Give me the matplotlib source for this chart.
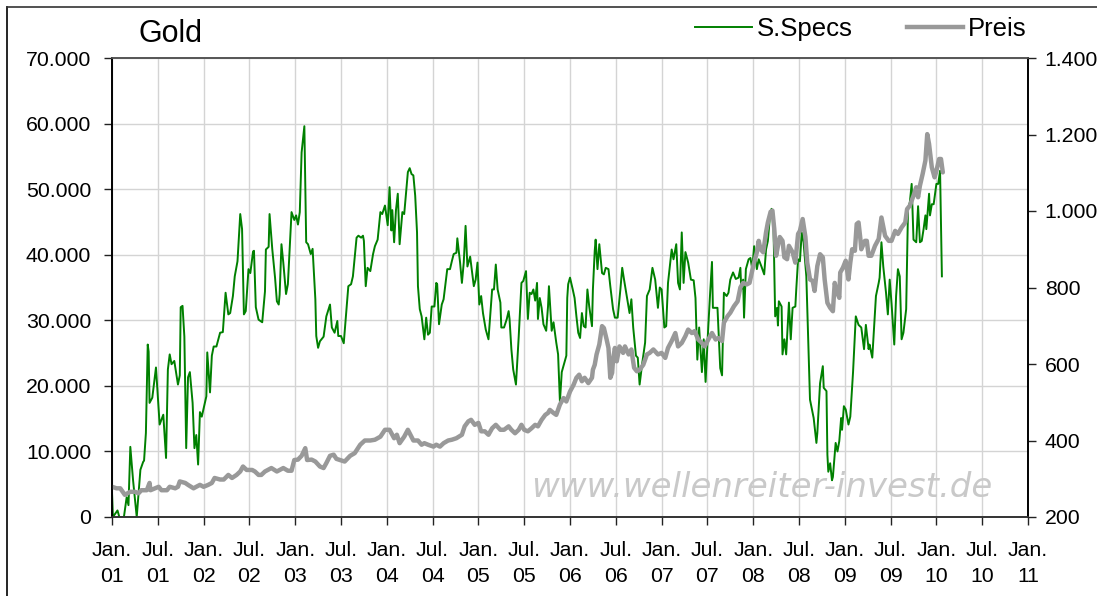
import matplotlib
matplotlib.use("Agg")
import matplotlib.pyplot as plt
from matplotlib.ticker import FuncFormatter
from matplotlib.lines import Line2D

plt.rcParams['font.family'] = ['Liberation Sans', 'DejaVu Sans']

# S.Specs (Kontrakte), Zeitpunkt als Dezimaljahr
spec_dates = [
    2001.00, 2001.01, 2001.06, 2001.08, 2001.13, 2001.16, 2001.18, 2001.20, 2001.23, 2001.27,
    2001.31, 2001.34, 2001.35, 2001.37, 2001.39, 2001.40, 2001.41, 2001.44, 2001.48, 2001.52,
    2001.56, 2001.59, 2001.61, 2001.63, 2001.65, 2001.68, 2001.72, 2001.74, 2001.75, 2001.77,
    2001.79, 2001.81, 2001.83, 2001.85, 2001.88, 2001.90, 2001.92, 2001.94, 2001.96, 2001.98,
    2002.03, 2002.04, 2002.07, 2002.09, 2002.11, 2002.14, 2002.18, 2002.21, 2002.24, 2002.27,
    2002.29, 2002.32, 2002.34, 2002.37, 2002.40, 2002.42, 2002.44, 2002.46, 2002.49, 2002.51,
    2002.54, 2002.55, 2002.57, 2002.60, 2002.64, 2002.67, 2002.68, 2002.71, 2002.72, 2002.75,
    2002.78, 2002.80, 2002.82, 2002.83, 2002.85, 2002.87, 2002.90, 2002.92, 2002.96, 2002.99,
    2003.01, 2003.03, 2003.05, 2003.07, 2003.10, 2003.12, 2003.14, 2003.17, 2003.19, 2003.22,
    2003.23, 2003.25, 2003.27, 2003.31, 2003.34, 2003.38, 2003.40, 2003.43, 2003.46, 2003.47,
    2003.50, 2003.53, 2003.58, 2003.61, 2003.63, 2003.67, 2003.69, 2003.72, 2003.74, 2003.75,
    2003.77, 2003.79, 2003.82, 2003.85, 2003.87, 2003.90, 2003.93, 2003.95, 2003.98, 2004.01,
    2004.03, 2004.05, 2004.06, 2004.08, 2004.10, 2004.12, 2004.14, 2004.17, 2004.19, 2004.23,
    2004.25, 2004.27, 2004.29, 2004.31, 2004.33, 2004.34, 2004.36, 2004.38, 2004.41, 2004.43,
    2004.45, 2004.47, 2004.49, 2004.52, 2004.54, 2004.55, 2004.57, 2004.60, 2004.62, 2004.66,
    2004.69, 2004.71, 2004.73, 2004.76, 2004.77, 2004.80, 2004.82, 2004.84, 2004.86, 2004.88,
    2004.91, 2004.95, 2004.97, 2004.99, 2005.01, 2005.03, 2005.05, 2005.08, 2005.11, 2005.15,
    2005.17, 2005.19, 2005.21, 2005.24, 2005.25, 2005.28, 2005.31, 2005.33, 2005.34, 2005.36,
    2005.38, 2005.41, 2005.44, 2005.47, 2005.49, 2005.52, 2005.54, 2005.56, 2005.58, 2005.60,
    2005.62, 2005.64, 2005.65, 2005.67, 2005.69, 2005.71, 2005.74, 2005.76, 2005.77, 2005.80,
    2005.82, 2005.85, 2005.87, 2005.89, 2005.91, 2005.93, 2005.96, 2005.97, 2005.98, 2006.00,
    2006.03, 2006.05, 2006.07, 2006.09, 2006.11, 2006.13, 2006.15, 2006.17, 2006.19, 2006.21,
    2006.24, 2006.25, 2006.27, 2006.28, 2006.30, 2006.32, 2006.35, 2006.37, 2006.39, 2006.42,
    2006.44, 2006.47, 2006.49, 2006.52, 2006.55, 2006.57, 2006.59, 2006.62, 2006.65, 2006.67,
    2006.69, 2006.72, 2006.74, 2006.76, 2006.79, 2006.82, 2006.84, 2006.87, 2006.90, 2006.93,
    2006.96, 2006.98, 2007.00, 2007.03, 2007.05, 2007.07, 2007.11, 2007.13, 2007.16, 2007.18,
    2007.20, 2007.22, 2007.24, 2007.26, 2007.29, 2007.32, 2007.35, 2007.37, 2007.39, 2007.41,
    2007.44, 2007.46, 2007.48, 2007.51, 2007.53, 2007.55, 2007.56, 2007.61, 2007.64, 2007.66,
    2007.68, 2007.71, 2007.73, 2007.75, 2007.78, 2007.81, 2007.84, 2007.86, 2007.87, 2007.89,
    2007.90, 2007.92, 2007.95, 2007.97, 2007.99, 2008.01, 2008.04, 2008.06, 2008.09, 2008.12,
    2008.14, 2008.16, 2008.18, 2008.20, 2008.22, 2008.24, 2008.26, 2008.27, 2008.28, 2008.31,
    2008.32, 2008.34, 2008.36, 2008.38, 2008.39, 2008.41, 2008.43, 2008.46, 2008.47, 2008.49,
    2008.51, 2008.53, 2008.55, 2008.58, 2008.62, 2008.66, 2008.69, 2008.70, 2008.73, 2008.76,
    2008.77, 2008.80, 2008.81, 2008.82, 2008.84, 2008.86, 2008.87, 2008.90, 2008.92, 2008.94,
    2008.96, 2008.97, 2008.99, 2009.01, 2009.04, 2009.06, 2009.09, 2009.12, 2009.15, 2009.18,
    2009.21, 2009.23, 2009.26, 2009.27, 2009.30, 2009.34, 2009.37, 2009.38, 2009.40, 2009.42,
    2009.45, 2009.47, 2009.49, 2009.51, 2009.54, 2009.56, 2009.58, 2009.60, 2009.62, 2009.64,
    2009.67, 2009.69, 2009.71, 2009.73, 2009.75, 2009.78, 2009.80, 2009.82, 2009.84, 2009.86,
    2009.88, 2009.89, 2009.92, 2009.93, 2009.95, 2009.97, 2010.00, 2010.02, 2010.04, 2010.06,
]
spec_values = [
    3700, 0, 1000, 0, 0, 3000, 1800, 10700, 5600, 0,
    7200, 8400, 8600, 12800, 26300, 25200, 17400, 18200, 22800, 14100,
    15600, 9000, 22500, 24800, 23300, 23800, 20200, 21600, 32000, 32200,
    27500, 10500, 21300, 22100, 17400, 10500, 12500, 8000, 16000, 15300,
    18400, 25100, 19000, 24600, 26000, 26000, 28100, 28200, 34200, 30900,
    31100, 33700, 36700, 39000, 46200, 43900, 30900, 31400, 37800, 37200,
    40500, 40600, 32000, 30100, 29700, 34400, 40800, 41200, 46200, 40800,
    36500, 32900, 32400, 33900, 41600, 38800, 34000, 35500, 46500, 45300,
    46000, 44600, 46500, 55600, 59600, 41900, 41600, 40100, 40900, 33200,
    27600, 25800, 26800, 27500, 30600, 32400, 28900, 28100, 29900, 27600,
    27600, 26500, 35200, 35500, 36700, 42600, 42900, 42600, 42900, 42100,
    35200, 38000, 37500, 40100, 41300, 42300, 46500, 46200, 47500, 44500,
    50300, 43700, 46800, 41900, 46800, 49300, 41600, 46500, 46200, 52600,
    53200, 52300, 52100, 49000, 43400, 35200, 31700, 30600, 27100, 30400,
    27800, 28100, 32100, 32100, 35700, 35500, 29400, 32400, 33200, 37800,
    37800, 39000, 40100, 40300, 42500, 38800, 35700, 38800, 44400, 38200,
    39700, 35200, 36200, 38800, 32400, 33700, 31100, 28600, 27100, 34700,
    34700, 38500, 34700, 32700, 28900, 28900, 30200, 31400, 30200, 25600,
    22500, 20200, 27500, 35700, 36000, 37500, 30200, 34200, 34000, 34700,
    33000, 35700, 30200, 33400, 31900, 29400, 28400, 32100, 35200, 28400,
    29700, 26600, 24800, 17600, 22100, 23100, 24600, 33400, 35500, 36500,
    34700, 33400, 30600, 28100, 27300, 31100, 29100, 28900, 34700, 32100,
    29100, 34700, 40600, 42300, 37800, 41600, 37200, 37000, 38000, 37800,
    35200, 31700, 30400, 30400, 34700, 38000, 36200, 33700, 31100, 33200,
    28900, 24600, 24300, 20200, 23600, 26600, 33700, 34700, 38000, 36200,
    31900, 35000, 34700, 28900, 29100, 35700, 40800, 39300, 41600, 35700,
    34700, 43400, 35700, 40400, 38800, 36200, 36100, 33400, 24000, 28900,
    22100, 27100, 20600, 29100, 34200, 38900, 31900, 31900, 22700, 21600,
    34200, 33700, 34200, 36200, 37300, 36300, 36500, 38000, 34700, 36200,
    30400, 37800, 39300, 39500, 37800, 41300, 37800, 39300, 38200, 37000,
    40800, 42100, 45400, 47000, 45400, 30600, 31900, 29200, 32900, 32100,
    24800, 27100, 24800, 30200, 32700, 27100, 31900, 32100, 34700, 39300,
    39000, 43400, 41900, 36700, 17900, 15100, 11300, 12800, 20400, 23000,
    19700, 19200, 9500, 6900, 8200, 5600, 6100, 11300, 10000, 11600,
    15100, 13300, 16900, 16400, 14100, 15300, 22100, 30600, 29300, 28900,
    25600, 29300, 25600, 26300, 24300, 33700, 35700, 36500, 41900, 38200,
    34200, 30900, 36200, 32600, 26300, 33700, 37800, 36700, 27100, 28100,
    31700, 46900, 48000, 50800, 42300, 41900, 47400, 41900, 42100, 43900,
    46000, 43900, 49300, 46000, 47700, 47700, 50800, 50800, 52800, 36700,
]

# Goldpreis (USD), Zeitpunkt als Dezimaljahr
price_dates = [
    2001.00, 2001.05, 2001.09, 2001.14, 2001.20, 2001.25, 2001.29, 2001.32, 2001.38, 2001.41,
    2001.42, 2001.47, 2001.51, 2001.54, 2001.60, 2001.63, 2001.69, 2001.72, 2001.74, 2001.80,
    2001.83, 2001.89, 2001.92, 2001.96, 2002.00, 2002.05, 2002.09, 2002.12, 2002.18, 2002.22,
    2002.27, 2002.31, 2002.36, 2002.40, 2002.43, 2002.47, 2002.53, 2002.56, 2002.60, 2002.63,
    2002.67, 2002.74, 2002.80, 2002.87, 2002.92, 2002.96, 2002.99, 2003.03, 2003.07, 2003.11,
    2003.13, 2003.18, 2003.22, 2003.27, 2003.31, 2003.34, 2003.38, 2003.42, 2003.45, 2003.49,
    2003.54, 2003.60, 2003.65, 2003.71, 2003.76, 2003.82, 2003.87, 2003.93, 2003.98, 2004.03,
    2004.08, 2004.11, 2004.14, 2004.19, 2004.23, 2004.29, 2004.34, 2004.38, 2004.41, 2004.45,
    2004.51, 2004.54, 2004.58, 2004.62, 2004.67, 2004.71, 2004.76, 2004.82, 2004.85, 2004.89,
    2004.92, 2004.96, 2005.00, 2005.03, 2005.07, 2005.11, 2005.15, 2005.19, 2005.24, 2005.28,
    2005.33, 2005.36, 2005.40, 2005.44, 2005.47, 2005.50, 2005.54, 2005.58, 2005.62, 2005.65,
    2005.69, 2005.73, 2005.76, 2005.78, 2005.82, 2005.85, 2005.89, 2005.93, 2005.96, 2006.00,
    2006.04, 2006.07, 2006.10, 2006.13, 2006.16, 2006.20, 2006.24, 2006.25, 2006.27, 2006.29,
    2006.32, 2006.35, 2006.37, 2006.40, 2006.42, 2006.44, 2006.46, 2006.47, 2006.49, 2006.51,
    2006.54, 2006.56, 2006.58, 2006.60, 2006.64, 2006.67, 2006.70, 2006.73, 2006.76, 2006.80,
    2006.84, 2006.87, 2006.91, 2006.96, 2007.00, 2007.04, 2007.07, 2007.11, 2007.15, 2007.18,
    2007.22, 2007.26, 2007.29, 2007.33, 2007.36, 2007.40, 2007.44, 2007.47, 2007.51, 2007.55,
    2007.59, 2007.62, 2007.66, 2007.68, 2007.72, 2007.75, 2007.79, 2007.83, 2007.86, 2007.89,
    2007.93, 2007.96, 2008.00, 2008.04, 2008.06, 2008.08, 2008.11, 2008.14, 2008.16, 2008.19,
    2008.21, 2008.23, 2008.25, 2008.27, 2008.29, 2008.32, 2008.34, 2008.37, 2008.39, 2008.43,
    2008.46, 2008.49, 2008.51, 2008.54, 2008.57, 2008.59, 2008.62, 2008.65, 2008.67, 2008.70,
    2008.73, 2008.76, 2008.78, 2008.81, 2008.84, 2008.87, 2008.89, 2008.91, 2008.94, 2008.95,
    2008.98, 2009.01, 2009.04, 2009.06, 2009.08, 2009.11, 2009.13, 2009.15, 2009.17, 2009.18,
    2009.22, 2009.24, 2009.26, 2009.29, 2009.33, 2009.37, 2009.40, 2009.44, 2009.48, 2009.51,
    2009.55, 2009.58, 2009.62, 2009.66, 2009.68, 2009.71, 2009.75, 2009.78, 2009.80, 2009.82,
    2009.85, 2009.88, 2009.90, 2009.92, 2009.95, 2009.98, 2010.00, 2010.03, 2010.05, 2010.07,
]
price_values = [
    279, 275, 275, 258, 266, 266, 262, 270, 270, 289,
    270, 275, 279, 270, 270, 279, 275, 279, 293, 289,
    284, 275, 279, 284, 279, 284, 289, 302, 298, 298,
    310, 302, 310, 319, 332, 323, 323, 319, 310, 310,
    319, 328, 319, 328, 321, 321, 349, 350, 360, 380,
    349, 350, 345, 332, 328, 341, 360, 363, 352, 349,
    345, 360, 367, 389, 400, 400, 402, 410, 428, 428,
    406, 415, 393, 410, 428, 400, 400, 389, 393, 389,
    384, 389, 384, 393, 400, 402, 406, 415, 437, 450,
    454, 441, 446, 424, 424, 415, 432, 441, 428, 428,
    437, 428, 419, 428, 441, 428, 424, 432, 441, 437,
    454, 467, 472, 480, 472, 467, 494, 511, 502, 528,
    546, 564, 572, 555, 564, 550, 564, 585, 598, 625,
    651, 699, 694, 664, 642, 564, 577, 612, 642, 607,
    646, 638, 629, 646, 625, 638, 590, 581, 585, 598,
    625, 629, 638, 625, 629, 616, 642, 660, 681, 646,
    655, 673, 690, 681, 686, 664, 655, 646, 664, 681,
    664, 668, 660, 708, 725, 734, 751, 764, 800, 812,
    808, 812, 856, 892, 922, 900, 892, 944, 970, 998,
    1001, 953, 883, 909, 932, 922, 879, 874, 909, 892,
    865, 940, 948, 979, 932, 865, 821, 817, 791, 856,
    887, 879, 821, 760, 747, 738, 812, 791, 773, 839,
    852, 870, 821, 865, 900, 896, 966, 970, 927, 900,
    922, 922, 883, 883, 909, 927, 983, 935, 922, 922,
    948, 940, 957, 970, 1005, 1014, 1040, 1062, 1036, 1066,
    1097, 1132, 1201, 1175, 1114, 1088, 1105, 1136, 1136, 1101,
]

tick_years = [2001 + 0.5 * i for i in range(21)]
tick_labels = [('Jan.' if i % 2 == 0 else 'Jul.') + '\n' + '%02d' % ((2001 + i // 2) % 100)
               for i in range(21)]


def de_format(v, pos):
    return '{:,.0f}'.format(v).replace(',', '.')


fig = plt.figure(figsize=(10.97, 5.96), dpi=100)
ax = fig.add_axes([112 / 1097, 1 - 517 / 596, 916 / 1097, 459 / 596])
ax2 = ax.twinx()

ax.plot(spec_dates, spec_values, color='#008000', lw=1.4, label='S.Specs')
ax2.plot(price_dates, price_values, color='#999999', lw=3.2, label='Preis',
         solid_capstyle='round', solid_joinstyle='round')

ax.set_xlim(2001, 2011)
ax.set_ylim(0, 70000)
ax2.set_ylim(200, 1400)
ax.set_yticks(range(0, 70001, 10000))
ax2.set_yticks(range(200, 1401, 200))
ax.yaxis.set_major_formatter(FuncFormatter(de_format))
ax2.yaxis.set_major_formatter(FuncFormatter(de_format))
ax.set_xticks(tick_years)
ax.set_xticklabels(tick_labels, linespacing=1.5)

ax.grid(True, color='#d4d4d4', lw=1.0)
ax.set_axisbelow(True)

for a in (ax, ax2):
    a.tick_params(direction='out', length=6, width=1, colors='#222222', labelsize=15.3,
                  labelcolor='black')
    a.spines['top'].set_color('#555555')
    a.spines['left'].set_color('black')
    a.spines['right'].set_color('black')
    a.spines['bottom'].set_color('#333333')
    for s in a.spines.values():
        s.set_linewidth(1.2)
ax.tick_params(axis='y', pad=9)
ax2.tick_params(axis='y', pad=6)
ax.tick_params(axis='x', pad=11)

fig.text(138 / 1097, 1 - 34 / 596, 'Gold', fontsize=22, va='center', ha='left')

ax.text((992 - 112) / 916, 0.065, 'www.wellenreiter-invest.de', transform=ax.transAxes,
        ha='right', va='center', fontsize=24.5, color='#c9c9c9', style='italic',
        family=['DejaVu Sans'])

handles = [Line2D([], [], color='#008000', lw=1.4), Line2D([], [], color='#999999', lw=3.2)]
fig.legend(handles, ['S.Specs', 'Preis'], loc='center right', ncol=2, frameon=False,
           bbox_to_anchor=(1027 / 1097, 1 - 29 / 596), fontsize=18.5, handlelength=2.2,
           handletextpad=0.2, columnspacing=2.1, borderaxespad=0, borderpad=0)

# Rahmen
fig.add_artist(Line2D([7 / 1097, 7 / 1097], [0, 1 - 7 / 596], color='black', lw=1.2,
                      transform=fig.transFigure))
fig.add_artist(Line2D([7 / 1097, 1], [1 - 7 / 596, 1 - 7 / 596], color='#333333', lw=1.2,
                      transform=fig.transFigure))

fig.savefig('out.png', dpi=100)
